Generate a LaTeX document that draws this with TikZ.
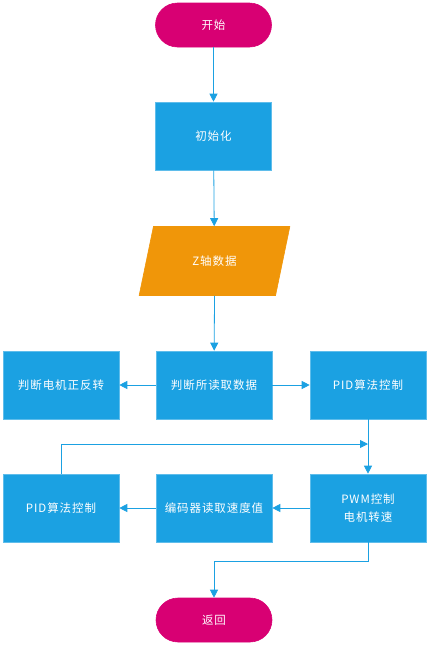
\documentclass[tikz,border=0pt]{standalone}
\usepackage{fontspec}
\setmainfont{Noto Sans CJK SC}[LetterSpace=8]
\usetikzlibrary{shapes.geometric,arrows.meta}
\definecolor{boxblue}{HTML}{1BA1E2}
\definecolor{termred}{HTML}{D80073}
\definecolor{dataorange}{HTML}{F09609}
\tikzset{
	proc/.style={fill=boxblue,draw=boxblue!70!white,line width=.6pt,text=white,minimum width=116pt,minimum height=68pt,inner sep=0pt,align=center,font=\fontsize{11.5}{18}\selectfont},
	term/.style={proc,fill=termred,draw=termred,rounded corners=22pt,minimum height=44pt},
	io/.style={proc,fill=dataorange,draw=dataorange,trapezium,trapezium left angle=64,trapezium right angle=116,trapezium stretches=true,minimum width=151pt,minimum height=69pt},
	flow/.style={draw=boxblue,line width=.8pt,-{Triangle[length=8pt,width=8pt]}}
}
\begin{document}
\begin{tikzpicture}[x=1pt,y=-1pt]
	\useasboundingbox (0,0) rectangle (429,646);
	% nodes
	\node[term] (start) at (213.5,25) {开始};
	\node[proc] (init) at (213.5,136) {初始化};
	\node[io] (zdata) at (214.5,261) {Z轴数据};
	\node[proc] (judge) at (214,385) {判断所读取数据};
	\node[proc] (dir) at (61,385) {判断电机正反转};
	\node[proc] (pid) at (368,385) {PID算法控制};
	\node[proc] (pwm) at (368,508) {PWM控制\\电机转速};
	\node[proc] (enc) at (214,508) {编码器读取速度值};
	\node[proc] (pidb) at (61,508) {PID算法控制};
	\node[term] (ret) at (214,620) {返回};
	\coordinate (fb) at (368,444);
	\coordinate (bend) at (368,561);
	% connectors
	\draw[flow] (start)--(init);
	\draw[flow] (init)--(zdata);
	\draw[flow] (zdata.south)--(judge);
	\draw[flow] (judge)--(dir);
	\draw[flow] (judge)--(pid);
	\draw[flow] (pid)--(pwm);
	\draw[flow] (pidb.north)|-(fb);
	\draw[flow] (pwm)--(enc);
	\draw[flow] (enc)--(pidb);
	\draw[flow] (pwm.south)--(bend)-|(ret.north);
\end{tikzpicture}
\end{document}
